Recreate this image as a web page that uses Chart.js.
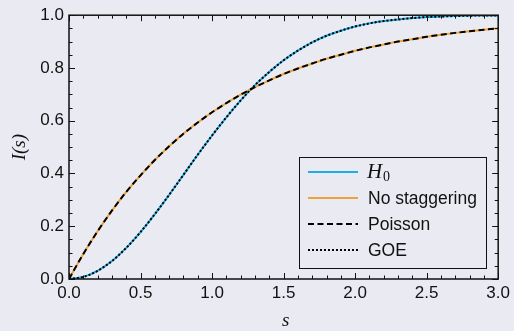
<!DOCTYPE html>
<html>
<head>
<meta charset="utf-8">
<script src="https://cdn.jsdelivr.net/npm/chart.js@4.4.0/dist/chart.umd.min.js"></script>
<style>
  html, body { margin: 0; padding: 0; background: #eaeaf2; }
  #wrap { width: 514px; height: 331px; }
</style>
</head>
<body>
<div id="wrap"><canvas id="chart" width="514" height="331"></canvas></div>
<script>
(function () {
  'use strict';

  // spacing s, every 0.1
  var sValues = [0, 0.1, 0.2, 0.3, 0.4, 0.5, 0.6, 0.7, 0.8, 0.9, 1.0,
    1.1, 1.2, 1.3, 1.4, 1.5, 1.6, 1.7, 1.8, 1.9, 2.0,
    2.1, 2.2, 2.3, 2.4, 2.5, 2.6, 2.7, 2.8, 2.9, 3.0];

  var h0Values = [0, 0.008, 0.031, 0.068, 0.118, 0.178, 0.246, 0.319, 0.395, 0.471, 0.544,
    0.613, 0.677, 0.735, 0.785, 0.829, 0.866, 0.897, 0.922, 0.941, 0.957,
    0.969, 0.978, 0.984, 0.989, 0.993, 0.995, 0.997, 0.998, 0.999, 0.999];

  var noStaggeringValues = [0, 0.095, 0.181, 0.259, 0.330, 0.393, 0.451, 0.503, 0.551, 0.593, 0.632,
    0.667, 0.699, 0.727, 0.753, 0.777, 0.798, 0.817, 0.835, 0.850, 0.865,
    0.878, 0.889, 0.900, 0.909, 0.918, 0.926, 0.933, 0.939, 0.945, 0.950];

  var poissonValues = [0, 0.095, 0.181, 0.259, 0.330, 0.393, 0.451, 0.503, 0.551, 0.593, 0.632,
    0.667, 0.699, 0.727, 0.753, 0.777, 0.798, 0.817, 0.835, 0.850, 0.865,
    0.878, 0.889, 0.900, 0.909, 0.918, 0.926, 0.933, 0.939, 0.945, 0.950];

  var goeValues = [0, 0.008, 0.031, 0.068, 0.118, 0.178, 0.246, 0.319, 0.395, 0.471, 0.544,
    0.613, 0.677, 0.735, 0.785, 0.829, 0.866, 0.897, 0.922, 0.941, 0.957,
    0.969, 0.978, 0.984, 0.989, 0.993, 0.995, 0.997, 0.998, 0.999, 0.999];

  var BG = '#eaeaf2';
  var INK = '#111111';
  var FONT = '"Liberation Sans", Arial, sans-serif';

  function points(ys) {
    return sValues.map(function (s, i) { return { x: s, y: ys[i] }; });
  }

  // lower order is drawn on top
  function series(label, ys, color, dash, width, order) {
    return {
      label: label,
      data: points(ys),
      borderColor: color,
      backgroundColor: color,
      borderWidth: width,
      borderDash: dash,
      order: order,
      pointRadius: 0,
      cubicInterpolationMode: 'monotone',
      fill: false
    };
  }

  function drawTicks(ctx, scale, values, len, area, horizontal) {
    values.forEach(function (v) {
      var p = Math.round(scale.getPixelForValue(v)) + 0.5;
      ctx.beginPath();
      if (horizontal) {
        ctx.moveTo(p, area.bottom); ctx.lineTo(p, area.bottom - len);
        ctx.moveTo(p, area.top); ctx.lineTo(p, area.top + len);
      } else {
        ctx.moveTo(area.left, p); ctx.lineTo(area.left + len, p);
        ctx.moveTo(area.right, p); ctx.lineTo(area.right - len, p);
      }
      ctx.stroke();
    });
  }

  var decorations = {
    id: 'decorations',
    beforeDraw: function (chart) {
      var ctx = chart.ctx;
      ctx.save();
      ctx.fillStyle = BG;
      ctx.fillRect(0, 0, chart.width, chart.height);
      ctx.restore();
    },
    afterDatasetsDraw: function (chart) {
      var ctx = chart.ctx;
      var a = chart.chartArea;
      var xs = chart.scales.x;
      var ys = chart.scales.y;
      var i;
      ctx.save();
      ctx.strokeStyle = INK;
      ctx.lineWidth = 1;

      var xMajor = [], xMinor = [], yMajor = [], yMinor = [];
      for (i = 0; i <= 30; i++) { (i % 5 === 0 ? xMajor : xMinor).push(i / 10); }
      for (i = 0; i <= 20; i++) { (i % 4 === 0 ? yMajor : yMinor).push(i / 20); }
      drawTicks(ctx, xs, xMajor, 6, a, true);
      drawTicks(ctx, xs, xMinor, 3.5, a, true);
      drawTicks(ctx, ys, yMajor, 6, a, false);
      drawTicks(ctx, ys, yMinor, 3.5, a, false);

      ctx.lineWidth = 1.5;
      ctx.strokeRect(a.left, a.top, a.right - a.left, a.bottom - a.top);

      // legend
      var box = { left: 299.5, top: 157.5, right: 486.5, bottom: 268.5 };
      ctx.fillStyle = BG;
      ctx.fillRect(box.left, box.top, box.right - box.left, box.bottom - box.top);
      ctx.lineWidth = 1;
      ctx.strokeStyle = INK;
      ctx.strokeRect(box.left, box.top, box.right - box.left, box.bottom - box.top);
      var rowY = [172, 198, 224, 250];
      chart.data.datasets.forEach(function (ds, k) {
        var y = rowY[k];
        ctx.beginPath();
        ctx.strokeStyle = ds.borderColor;
        ctx.lineWidth = ds.borderWidth;
        ctx.setLineDash(ds.borderDash || []);
        ctx.moveTo(308, y);
        ctx.lineTo(358, y);
        ctx.stroke();
        ctx.setLineDash([]);
        ctx.fillStyle = INK;
        ctx.textBaseline = 'middle';
        ctx.textAlign = 'left';
        if (k === 0) {
          ctx.font = 'italic 21px "Liberation Serif", serif';
          ctx.fillText('H', 367, y);
          ctx.font = '14px "Liberation Serif", serif';
          ctx.fillText('0', 383, y + 5);
        } else {
          ctx.font = '17.5px ' + FONT;
          ctx.fillText(ds.label, 368, y + 1);
        }
      });

      // axis titles
      ctx.fillStyle = INK;
      ctx.textAlign = 'center';
      ctx.textBaseline = 'middle';
      ctx.font = 'italic 19px "Liberation Serif", serif';
      ctx.fillText('s', (a.left + a.right) / 2 + 2, 321);
      ctx.translate(20, (a.top + a.bottom) / 2);
      ctx.rotate(-Math.PI / 2);
      ctx.fillText('I(s)', 0, 0);
      ctx.restore();
    }
  };

  var canvas = document.getElementById('chart');
  new Chart(canvas, {
    type: 'line',
    data: {
      datasets: [
        series('H0', h0Values, '#1eaee6', [], 2, 4),
        series('No staggering', noStaggeringValues, '#eea23a', [], 2, 3),
        series('Poisson', poissonValues, '#000000', [6, 3.5], 2, 2),
        series('GOE', goeValues, '#000000', [2, 2], 2, 1)
      ]
    },
    options: {
      responsive: false,
      animation: false,
      devicePixelRatio: 1,
      layout: { padding: { left: 0, right: 15, top: 13, bottom: 0 } },
      plugins: { legend: { display: false }, tooltip: { enabled: false } },
      scales: {
        x: {
          type: 'linear',
          min: 0,
          max: 3,
          grid: { display: false, drawTicks: false },
          border: { display: false },
          afterFit: function (scale) { scale.height = 52; },
          ticks: {
            stepSize: 0.5,
            padding: 4,
            color: INK,
            font: { family: FONT, size: 17 },
            maxRotation: 0,
            callback: function (v) { return Number(v).toFixed(1); }
          }
        },
        y: {
          type: 'linear',
          min: 0,
          max: 1,
          grid: { display: false, drawTicks: false },
          border: { display: false },
          afterFit: function (scale) { scale.width = 69; },
          ticks: {
            stepSize: 0.2,
            padding: 5,
            color: INK,
            font: { family: FONT, size: 17 },
            callback: function (v) { return Number(v).toFixed(1); }
          }
        }
      }
    },
    plugins: [decorations]
  });
})();
</script>
</body>
</html>
